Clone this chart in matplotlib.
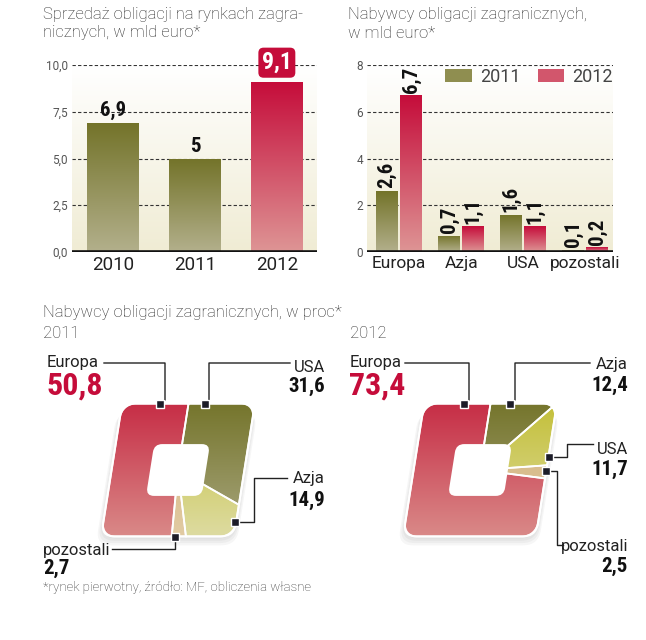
import numpy as np
import matplotlib
matplotlib.use("Agg")
import matplotlib.pyplot as plt
from matplotlib import patches as mpatches
from matplotlib.colors import LinearSegmentedColormap
from matplotlib.transforms import Affine2D

W, H = 646, 640

# --- Data ---
years = ['2010', '2011', '2012']
sales = [6.9, 5.0, 9.1]
sales_ticks = [0, 2.5, 5, 7.5, 10]

regions = ['Europa', 'Azja', 'USA', 'pozostali']
buyers_2011 = [2.6, 0.7, 1.6, 0.1]
buyers_2012 = [6.7, 1.1, 1.1, 0.2]
buyers_ticks = [0, 2, 4, 6, 8]

# percentage shares, listed clockwise from 12 o'clock
share_names_2011 = ['USA', 'Azja', 'pozostali', 'Europa']
share_vals_2011 = [31.6, 14.9, 2.7, 50.8]
share_names_2012 = ['Azja', 'USA', 'pozostali', 'Europa']
share_vals_2012 = [12.4, 11.7, 2.5, 73.4]

# --- Styles ---
OLIVE = ('#737329', '#b3b08c')
RED = ('#c50c3a', '#de9595')
SLICE_RED = ('#c62b44', '#da8c8a')
SLICE_OLIVE = ('#74742a', '#aaa882')
SLICE_YELLOW = ('#c3bf36', '#dedca4')
SLICE_TAN = ('#cfae78', '#e2cca4')
colors_2011 = [SLICE_OLIVE, SLICE_YELLOW, SLICE_TAN, SLICE_RED]
colors_2012 = [SLICE_OLIVE, SLICE_YELLOW, SLICE_TAN, SLICE_RED]
SKEW = 9.0
CORNER = 0.2

plt.rcParams['font.family'] = ['Roboto', 'DejaVu Sans']
BOLD = dict(family=['Roboto Condensed', 'Roboto', 'DejaVu Sans'], weight='bold', stretch='condensed')
LIGHT = dict(family=['Roboto', 'DejaVu Sans'], weight='light')


def fmt(v, digits=None):
    if digits is None:
        digits = 0 if float(v).is_integer() else 1
    return f"{v:.{digits}f}".replace('.', ',')


def fig_rect(left, top, right, bottom):
    return [left / W, 1 - bottom / H, (right - left) / W, (bottom - top) / H]


def gradient_fill(ax, patch, c_top, c_bot, extent, transform=None):
    cmap = LinearSegmentedColormap.from_list('g', [c_bot, c_top])
    grad = np.linspace(0, 1, 256).reshape(-1, 1)
    im = ax.imshow(grad, cmap=cmap, extent=extent, origin='lower', aspect='auto',
                   interpolation='bicubic', zorder=patch.get_zorder())
    if transform is not None:
        im.set_transform(transform)
    im.set_clip_path(patch)


def chart_background(ax, ticks, labels):
    cmap = LinearSegmentedColormap.from_list('bg', ['#f0ecd4', '#ffffff'])
    ax.imshow(np.linspace(0, 1, 256).reshape(-1, 1), cmap=cmap, extent=[0, 1, 0, 1],
              origin='lower', aspect='auto', transform=ax.transAxes, zorder=0)
    for t in ticks[1:]:
        ax.axhline(t, color='#333333', lw=0.8, ls=(0, (3, 2)), zorder=1)
    ax.axhline(0, color='#111111', lw=2.6, zorder=4)
    for s in ax.spines.values():
        s.set_visible(False)
    ax.set_yticks(ticks, labels)
    ax.tick_params(axis='y', length=0, pad=3, labelsize=8.5, labelcolor='#555555')
    ax.tick_params(axis='x', length=0, pad=3, labelsize=13.5, labelcolor='#222222')


def rounded_square(r=CORNER, n=1600):
    # outline of unit rounded square, clockwise from top centre
    pts = [(0, 1)]
    c = 1 - r
    for cx, cy, a0 in [(c, c, 90), (c, -c, 0), (-c, -c, -90), (-c, c, -180)]:
        a = np.radians(np.linspace(a0, a0 - 90, 30))
        pts += list(zip(cx + r * np.cos(a), cy + r * np.sin(a)))
    pts.append((0, 1))
    pts = np.array(pts)
    seg = np.hypot(*np.diff(pts, axis=0).T)
    s = np.concatenate([[0], np.cumsum(seg)])
    t = np.linspace(0, s[-1], n)
    return np.interp(t, s, pts[:, 0]), np.interp(t, s, pts[:, 1])


def draw_shares(ax, values, colors):
    trans = Affine2D().skew_deg(SKEW, 0) + ax.transData
    bx, by = rounded_square()
    tri = 0.5 * np.abs(bx[:-1] * by[1:] - bx[1:] * by[:-1])
    cum = np.concatenate([[0], np.cumsum(tri)]) / tri.sum()
    edges = np.concatenate([[0], np.cumsum(values)]) / np.sum(values)

    for k in range(4):
        sh = mpatches.FancyBboxPatch((-1.0 - 0.02 * k, -1.03 - 0.035 * k), 2 + 0.04 * k, 2,
                                     boxstyle=f'round,pad=0,rounding_size={CORNER + 0.03}',
                                     fc='#000000', ec='none', alpha=0.035,
                                     transform=trans, zorder=1)
        ax.add_patch(sh)

    for i, (f0, f1) in enumerate(zip(edges[:-1], edges[1:])):
        inside = (cum > f0) & (cum < f1)
        xs = np.concatenate([[0, np.interp(f0, cum, bx)], bx[inside], [np.interp(f1, cum, bx)]])
        ys = np.concatenate([[0, np.interp(f0, cum, by)], by[inside], [np.interp(f1, cum, by)]])
        poly = mpatches.Polygon(np.column_stack([xs, ys]), closed=True, fc='none',
                                ec='none', transform=trans, zorder=3)
        ax.add_patch(poly)
        gradient_fill(ax, poly, colors[i][0], colors[i][1], [-1.2, 1.2, -1.05, 1.05], trans)
        ax.add_patch(mpatches.Polygon(np.column_stack([xs, ys]), closed=True, fc='none',
                                      ec='white', lw=1.3, transform=trans, zorder=4))

    ax.add_patch(mpatches.FancyBboxPatch((-1, -1), 2, 2, boxstyle=f'round,pad=0,rounding_size={CORNER}',
                                         fc='none', ec='white', lw=1.5, transform=trans, zorder=5))
    ax.add_patch(mpatches.FancyBboxPatch((-0.42, -0.39), 0.84, 0.78,
                                         boxstyle='round,pad=0,rounding_size=0.12',
                                         fc='white', ec='none', transform=trans, zorder=6))
    ax.set_xlim(-1.4, 1.4)
    ax.set_ylim(-1.4, 1.4)
    ax.axis('off')


fig = plt.figure(figsize=(W / 100, H / 100), dpi=100)
fig.patch.set_facecolor('white')

# --- Sales bar chart ---
ax1 = fig.add_axes(fig_rect(72, 65, 317, 252))
x1 = np.arange(len(years))
bars = ax1.bar(x1, sales, width=0.63, color='none', edgecolor='none', zorder=2)
for i, b in enumerate(bars):
    c = RED if i == len(bars) - 1 else OLIVE
    gradient_fill(ax1, b, c[0], c[1], [b.get_x(), b.get_x() + b.get_width(), 0, b.get_height()])
chart_background(ax1, sales_ticks, [fmt(t, 1) for t in sales_ticks])
ax1.set_xticks(x1, years)
for i, v in enumerate(sales):
    if i == len(sales) - 1:
        ax1.annotate(fmt(v), (x1[i], v), xytext=(0, 5.5), textcoords='offset points',
                     ha='center', va='bottom', fontsize=17, color='white', **BOLD,
                     bbox=dict(boxstyle='round,pad=0.15,rounding_size=0.22', fc='#c50c3a', ec='none'),
                     annotation_clip=False, zorder=6)
    else:
        ax1.annotate(fmt(v), (x1[i], v), xytext=(0, 2), textcoords='offset points',
                     ha='center', va='bottom', fontsize=15, color='#111111', **BOLD, zorder=6)
ax1.set_xlim(-0.5, 2.49)
ax1.set_ylim(0, 10)

# --- Buyers bar chart ---
ax2 = fig.add_axes(fig_rect(367, 65, 613, 252))
x2 = np.arange(len(regions))
off, bw = 0.195, 0.355
for vals, c, sign in [(buyers_2011, OLIVE, -1), (buyers_2012, RED, 1)]:
    bs = ax2.bar(x2 + sign * off, vals, width=bw, color='none', edgecolor='none', zorder=2)
    for b in bs:
        gradient_fill(ax2, b, c[0], c[1], [b.get_x(), b.get_x() + b.get_width(), 0, b.get_height()])
    for xi, v in zip(x2 + sign * off, vals):
        ax2.annotate(fmt(v), (xi, v), xytext=(0, 2), textcoords='offset points', rotation=90,
                     ha='center', va='bottom', fontsize=15, color='#111111', **BOLD, zorder=6)
chart_background(ax2, buyers_ticks, [str(t) for t in buyers_ticks])
ax2.set_xticks(x2, regions)
ax2.tick_params(axis='x', labelsize=12.5)
handles = [mpatches.Patch(fc='#8f8e50', ec='none'), mpatches.Patch(fc='#d2566c', ec='none')]
ax2.legend(handles, ['2011', '2012'], loc='upper right', bbox_to_anchor=(1.0, 0.985), ncol=2,
           frameon=False, fontsize=13, handlelength=1.45, handleheight=0.7, handletextpad=0.45,
           columnspacing=1.0, labelcolor='#444444', borderaxespad=0, borderpad=0)
ax2.set_xlim(-0.52, 3.45)
ax2.set_ylim(0, 8)

# --- Share charts ---
axd1 = fig.add_axes(fig_rect(178 - 93, 470 - 93, 178 + 93, 470 + 93))
draw_shares(axd1, share_vals_2011, colors_2011)
axd2 = fig.add_axes(fig_rect(480 - 93, 470 - 93, 480 + 93, 470 + 93))
draw_shares(axd2, share_vals_2012, colors_2012)

# --- Text overlay (pixel coordinates) ---
ov = fig.add_axes([0, 0, 1, 1])
ov.set_xlim(0, W)
ov.set_ylim(H, 0)
ov.axis('off')
ov.patch.set_alpha(0)

title_kw = dict(fontsize=12, color='#2a2a2a', va='center', ha='left', **LIGHT)
ov.text(43, 14, 'Sprzedaż obligacji na rynkach zagra-', **title_kw)
ov.text(43, 33, 'nicznych, w mld euro*', **title_kw)
ov.text(348, 14, 'Nabywcy obligacji zagranicznych,', **title_kw)
ov.text(348, 33, 'w mld euro*', **title_kw)
ov.text(43, 313, 'Nabywcy obligacji zagranicznych, w proc*', **title_kw)
ov.text(43, 333, '2011', **title_kw)
ov.text(350, 333, '2012', **title_kw)
ov.text(43, 588, '*rynek pierwotny, źródło: MF, obliczenia własne', fontsize=9.5, color='#333333',
        va='center', ha='left', **LIGHT)

# label layout: name position, value position, leader line
layout = {
    ('2011', 'Europa'): ((47, 363), (46, 386), 'left', [(104, 363), (165, 363), (165, 400), (160, 404)]),
    ('2011', 'USA'): ((325, 368), (325, 386), 'right', [(290, 363), (209, 363), (209, 400), (205, 404)]),
    ('2011', 'Azja'): ((325, 479), (325, 500), 'right', [(287, 478), (254, 478), (254, 522), (235, 522)]),
    ('2011', 'pozostali'): ((43, 550), (43, 568), 'left', [(112, 549), (175, 549), (175, 537)]),
    ('2012', 'Europa'): ((350, 363), (349, 386), 'left', [(405, 363), (469, 363), (469, 400), (464, 404)]),
    ('2012', 'Azja'): ((628, 364), (628, 385), 'right', [(590, 363), (515, 363), (515, 400), (510, 404)]),
    ('2012', 'USA'): ((628, 449), (628, 469), 'right', [(593, 444), (567, 444), (567, 457), (549, 457)]),
    ('2012', 'pozostali'): ((628, 546), (628, 566), 'right', [(563, 545), (557, 545), (557, 471), (546, 471)]),
}
for yr, names, vals in [('2011', share_names_2011, share_vals_2011),
                        ('2012', share_names_2012, share_vals_2012)]:
    for name, v in zip(names, vals):
        (nx, ny), (vx, vy), ha, line = layout[(yr, name)]
        ov.text(nx, ny, name, fontsize=12, color='#222222', ha=ha, va='center')
        if name == 'Europa':
            ov.text(vx, vy, fmt(v), fontsize=23, color='#c50c3a', ha=ha, va='center', **BOLD)
        else:
            ov.text(vx, vy, fmt(v), fontsize=15, color='#111111', ha=ha, va='center', **BOLD)
        lx, ly = zip(*line)
        ov.plot(lx, ly, color='#222222', lw=1)
        ov.plot(lx[-1], ly[-1], marker='s', ms=5.5, color='#1c1c28', mec='white', mew=1)

fig.savefig('out.png', dpi=100, facecolor='white')
